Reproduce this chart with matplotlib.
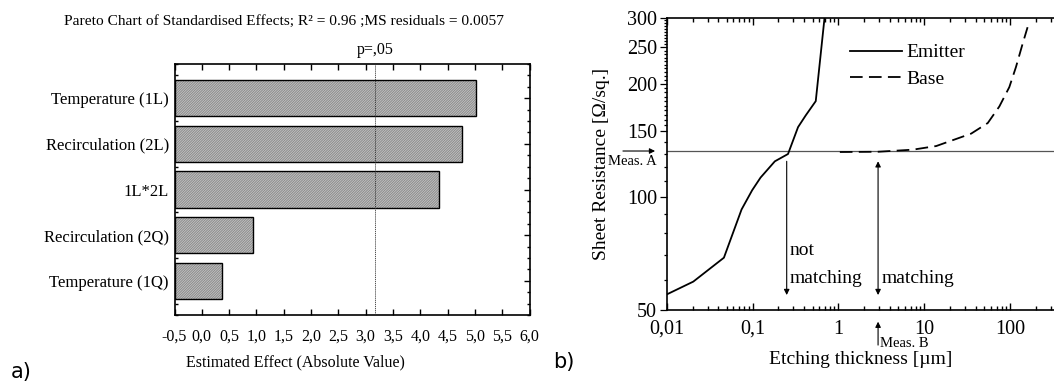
import numpy as np
import matplotlib
matplotlib.use("Agg")
import matplotlib.pyplot as plt
from matplotlib.ticker import FixedLocator, FuncFormatter, NullFormatter

plt.rcParams['font.family'] = ['Liberation Serif', 'DejaVu Serif']
plt.rcParams['hatch.linewidth'] = 0.45

# Pareto chart data (panel a)
factors = ['Temperature (1L)', 'Recirculation (2L)', '1L*2L',
           'Recirculation (2Q)', 'Temperature (1Q)']
effects = [5.02, 4.77, 4.35, 0.93, 0.37]
p_crit = 3.18
x_ticks_a = [-0.5, 0.0, 0.5, 1.0, 1.5, 2.0, 2.5, 3.0, 3.5, 4.0, 4.5, 5.0, 5.5, 6.0]

# Sheet resistance data (panel b)
emitter_x = [0.01, 0.0204, 0.0464, 0.0745, 0.099, 0.124, 0.182, 0.259, 0.339, 0.417, 0.545, 0.69]
emitter_y = [55.0, 59.5, 68.9, 92.6, 104.2, 112.6, 124.4, 130.1, 153.4, 164.9, 179.9, 300]
base_x = [1.04, 2.9, 7.38, 13.8, 35.2, 55, 75, 98, 117, 140, 160]
base_y = [131.7, 131.9, 133.6, 136.6, 147.4, 157.3, 174.1, 196, 221.5, 255.6, 283]
meas_a = 132.5
meas_b = 2.9
not_match_x = 0.25
arrow_top, arrow_bottom = 124.4, 54.8
x_ticks_b = [0.01, 0.1, 1, 10, 100]
x_labels_b = ['0,01', '0,1', '1', '10', '100']
y_ticks_b = [50, 100, 150, 200, 250, 300]

fig = plt.figure(figsize=(10.54, 3.83), dpi=100)

# ---------------- panel a ----------------
W, H = 1054, 383
ax1 = fig.add_axes([174.5 / W, 1 - 315 / H, (529.5 - 174.5) / W, (315 - 64) / H])
pos = np.arange(len(factors))
widths = [e + 0.5 for e in effects]
ax1.barh(pos, widths, left=-0.5, height=0.8, color='#eeeeee', edgecolor='#666666',
         hatch='/' * 20, linewidth=0, zorder=2)
ax1.barh(pos, widths, left=-0.5, height=0.8, color='none', edgecolor='black',
         linewidth=1.0, zorder=3)
ax1.axvline(p_crit, color='#333333', linestyle=(0, (1.5, 1.0)), linewidth=0.6, zorder=4)
ax1.text(p_crit, 1.056, 'p=,05', transform=ax1.get_xaxis_transform(), ha='center',
         va='center', fontsize=11.5)
ax1.set_xlim(-0.5, 6.0)
ax1.set_ylim(4.75, -0.75)
ax1.set_xticks(x_ticks_a)
ax1.xaxis.set_major_formatter(FuncFormatter(lambda v, p: f"{v:.1f}".replace('.', ',')))
ax1.set_yticks(pos)
ax1.set_yticklabels(factors, fontsize=12)
ax1.yaxis.set_minor_locator(FixedLocator(np.arange(-0.75, 4.76, 0.25)))
ax1.tick_params(axis='x', direction='in', top=True, length=4, width=1, labelsize=11.5, pad=10)
ax1.tick_params(axis='y', which='both', direction='in', right=True, width=1, pad=4)
ax1.tick_params(axis='y', which='major', length=4)
ax1.tick_params(axis='y', which='minor', length=2)
for s in ax1.spines.values():
    s.set_linewidth(1.2)
fig.text(64 / W, 1 - 21 / H,
         'Pareto Chart of Standardised Effects; R² = 0.96 ;MS residuals = 0.0057',
         ha='left', va='center', fontsize=11.1)
fig.text(295 / W, 1 - 362 / H, 'Estimated Effect (Absolute Value)', ha='center',
         va='center', fontsize=11.5)
fig.text(11 / W, 1 - 372 / H, 'a)', family='DejaVu Sans', fontsize=15, va='center')

# ---------------- panel b ----------------
ax2 = fig.add_axes([666.7 / W, 1 - 310 / H, (W - 666.7) / W, (310 - 17.7) / H])
ax2.set_xscale('log')
ax2.set_yscale('log')
ax2.plot(emitter_x, emitter_y, color='black', linewidth=1.3, label='Emitter', zorder=3)
ax2.plot(base_x, base_y, color='black', linewidth=1.3, linestyle=(0, (7, 3.5)),
         label='Base', zorder=3)
ax2.axhline(meas_a, color='#555555', linewidth=0.9, zorder=2)
ax2.set_xlim(0.01, 325)
ax2.set_ylim(50, 300)
ax2.spines['right'].set_visible(False)

ax2.set_xticks(x_ticks_b)
ax2.set_xticklabels(x_labels_b)
ax2.xaxis.set_minor_formatter(NullFormatter())
ax2.set_yticks(y_ticks_b)
ax2.set_yticklabels([str(v) for v in y_ticks_b])
minor_y = [v for v in range(60, 150, 10)] + [v for v in range(155, 300, 5) if v % 50]
ax2.yaxis.set_minor_locator(FixedLocator(minor_y))
ax2.yaxis.set_minor_formatter(NullFormatter())
ax2.tick_params(axis='x', which='both', direction='in', top=True, width=1, labelsize=14.5, pad=7)
ax2.tick_params(axis='x', which='major', length=5)
ax2.tick_params(axis='x', which='minor', length=3)
ax2.tick_params(axis='y', which='both', direction='out', width=0.9, labelsize=14.5, pad=2)
ax2.tick_params(axis='y', which='major', length=5)
ax2.tick_params(axis='y', which='minor', length=2.5)
for s in ax2.spines.values():
    s.set_linewidth(1.2)

ax2.set_xlabel('Etching thickness [µm]', fontsize=14, labelpad=9)
ax2.set_ylabel('Sheet Resistance [Ω/sq.]', fontsize=14, labelpad=12)

arr = dict(arrowstyle='-|>', color='black', lw=0.8, mutation_scale=8, shrinkA=0, shrinkB=0)
ax2.annotate('', xy=(not_match_x, arrow_bottom), xytext=(not_match_x, arrow_top),
             arrowprops=arr)
ax2.annotate('', xy=(meas_b, arrow_bottom), xytext=(meas_b, arrow_top),
             arrowprops=dict(arr, arrowstyle='<|-|>'))
ax2.text(0.272, 72.1, 'not', fontsize=14, va='center', ha='left')
ax2.text(0.272, 60.8, 'matching', fontsize=14, va='center', ha='left')
ax2.text(3.16, 60.8, 'matching', fontsize=14, va='center', ha='left')

# measurement markers outside the axes
ax2.annotate('', xy=(-0.030, meas_a), xytext=(-0.113, meas_a),
             xycoords=('axes fraction', 'data'), textcoords=('axes fraction', 'data'),
             arrowprops=arr, annotation_clip=False)
ax2.annotate('Meas. A', xy=(-0.152, 124.0), xycoords=('axes fraction', 'data'),
             fontsize=10.5, va='center', ha='left', annotation_clip=False)
ax2.annotate('', xy=(meas_b, -0.04), xytext=(meas_b, -0.12),
             xycoords=('data', 'axes fraction'), textcoords=('data', 'axes fraction'),
             arrowprops=arr, annotation_clip=False)
ax2.annotate('Meas. B', xy=(3.05, -0.113), xycoords=('data', 'axes fraction'),
             fontsize=10.5, va='center', ha='left', annotation_clip=False)

ax2.legend(loc='upper left', bbox_to_anchor=(0.473, 0.911), frameon=False, fontsize=14,
           handlelength=2.7, handletextpad=0.2, labelspacing=0.45, borderpad=0,
           borderaxespad=0)
fig.text(553 / W, 1 - 362 / H, 'b)', family='DejaVu Sans', fontsize=15, va='center')

fig.savefig('out.png', dpi=100)
